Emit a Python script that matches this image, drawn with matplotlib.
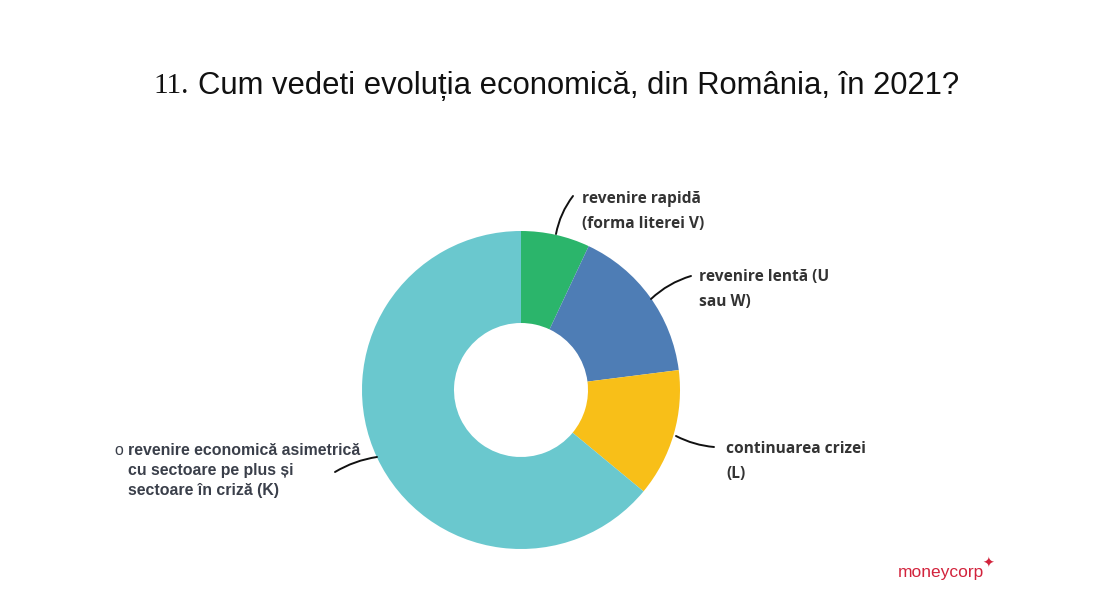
import matplotlib
matplotlib.use("Agg")
import matplotlib.pyplot as plt
from matplotlib.patches import FancyArrowPatch
from matplotlib import font_manager

categories = ["revenire rapidă\n(forma literei V)",
              "revenire lentă (U\nsau W)",
              "continuarea crizei\n(L)",
              "revenire economică asimetrică\ncu sectoare pe plus și\nsectoare în criză (K)"]
values = [7, 16, 13, 64]
colors = ["#2BB56B", "#4E7DB5", "#F8BF18", "#6AC8CE"]
title_num = "11."
title_text = "Cum vedeti evoluția economică, din România, în 2021?"

W, H = 1110, 590
fig = plt.figure(figsize=(W / 100, H / 100), dpi=100)
ax = fig.add_axes([0, 0, 1, 1])

def Y(y):
    return H - y

cx, cy, R, r = 521, 390, 159, 67
ax.pie(values, colors=colors, startangle=90, counterclock=False,
       center=(cx, Y(cy)), radius=R, frame=True,
       wedgeprops=dict(width=R - r, linewidth=0))
ax.set_xlim(0, W)
ax.set_ylim(0, H)
ax.set_aspect("equal")
ax.axis("off")

def names(fams):
    avail = {f.name for f in font_manager.fontManager.ttflist}
    return [f for f in fams if f in avail] or ["DejaVu Sans"]

narrow = names(["Liberation Sans Narrow", "Liberation Sans"])
serif = names(["Liberation Serif", "DejaVu Serif"])
plex = names(["Open Sans", "Lato", "DejaVu Sans"])
arial = names(["Liberation Sans", "DejaVu Sans"])

# title
fig.text(189 / W, 1 - 86 / H, title_num, family=serif, fontsize=21,
         ha="right", va="center", color="#111")
fig.text(198 / W, 1 - 86 / H, title_text, family=narrow, fontsize=22.3,
         ha="left", va="center", color="#111")

# leader lines
def leader(p0, p1, rad):
    a = FancyArrowPatch((p0[0], Y(p0[1])), (p1[0], Y(p1[1])),
                        connectionstyle=f"arc3,rad={rad}", arrowstyle="-",
                        color="#111", lw=1.4, shrinkA=0, shrinkB=0)
    ax.add_patch(a)

leader((556, 234), (573, 196), -0.12)
leader((651, 299), (691, 276), -0.12)
leader((676, 436), (714, 447), 0.1)
leader((377, 457), (335, 472), 0.1)

# labels
lab_kw = dict(family=plex, fontsize=11.2, fontweight="bold", color="#333333",
              ha="left", va="top", linespacing=1.75)
ax.text(582, Y(191), categories[0], **lab_kw)
ax.text(699, Y(269), categories[1], **lab_kw)
ax.text(726, Y(441), categories[2], **lab_kw)

ax.text(114, Y(443), "o", family=arial, fontsize=11.4, color="#3a3f4a",
        ha="left", va="top")
ax.text(128, Y(443), categories[3], family=arial, fontsize=11.4,
        fontweight="bold", color="#3a3f4a", ha="left", va="top",
        linespacing=1.4)

# logo
ax.text(898, Y(572), "moneycorp", family=arial, fontsize=12.5,
        color="#D2233C", ha="left", va="center")
ax.text(988, Y(564), "✦", family=["DejaVu Sans"], fontsize=10,
        color="#D2233C", ha="center", va="center")

fig.savefig("out.png", dpi=100)
